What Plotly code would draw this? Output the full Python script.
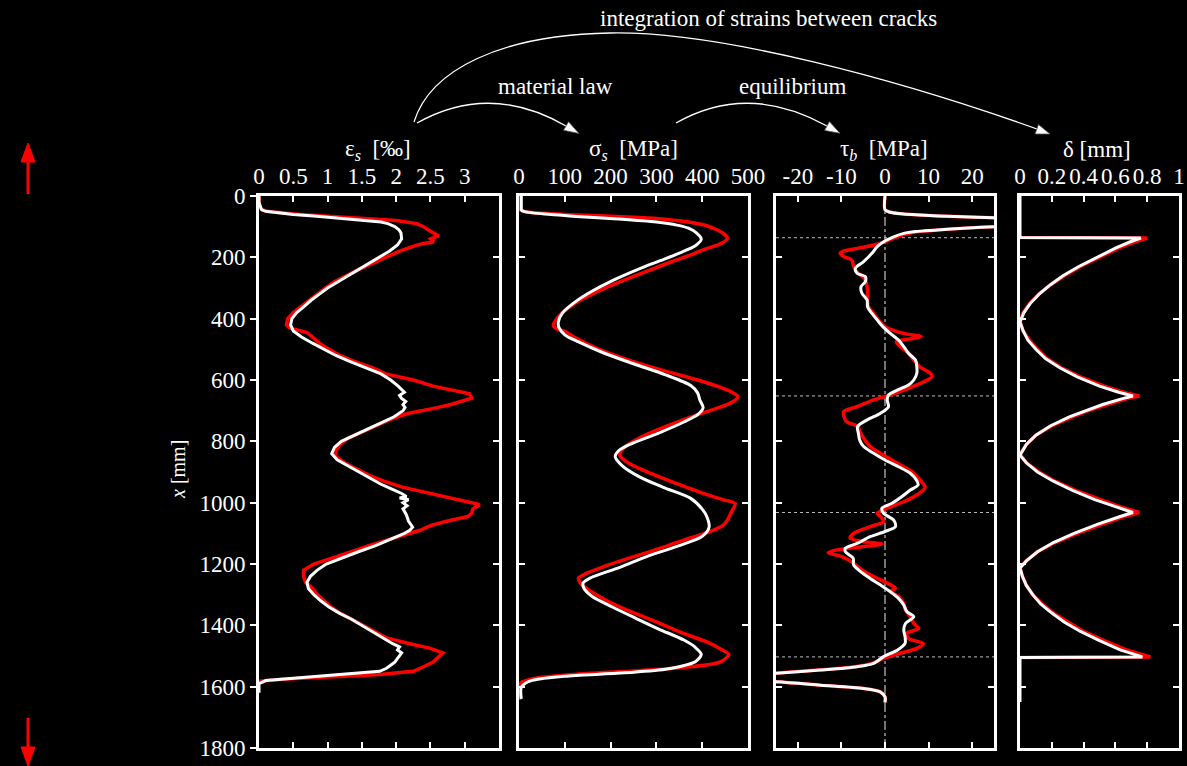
import plotly.graph_objects as go

W, H = 1187, 766

# ---------------- data ----------------
# position along the bar x [mm]
y_ticks = [0, 200, 400, 600, 800, 1000, 1200, 1400, 1600, 1800]
crack_positions = [136, 652, 1032, 1503]

eps_ticks = [0, 0.5, 1, 1.5, 2, 2.5, 3]
eps_ticklabels = ["0", "0.5", "1", "1.5", "2", "2.5", "3"]
sig_ticks = [0, 100, 200, 300, 400, 500]
sig_ticklabels = ["0", "100", "200", "300", "400", "500"]
tau_ticks = [-20, -10, 0, 10, 20]
tau_ticklabels = ["-20", "-10", "0", "10", "20"]
del_ticks = [0, 0.2, 0.4, 0.6, 0.8, 1]
del_ticklabels = ["0", "0.2", "0.4", "0.6", "0.8", "1"]

# steel strain eps_s [permille]
eps_white_pos = [0, 20, 35, 45, 50, 55, 60, 65, 70, 75, 80, 85, 90, 100, 110, 120, 140, 160, 180, 200,
                 220, 240, 260, 280, 300, 320, 340, 360, 380, 400, 420, 440, 460, 480, 500, 520, 540,
                 560, 580, 600, 620, 640, 650, 660, 670, 680, 690, 700, 720, 740, 760, 780, 800, 820,
                 840, 860, 880, 900, 920, 940, 960, 970, 980, 985, 990, 1000, 1010, 1020, 1040, 1060,
                 1080, 1090, 1100, 1120, 1140, 1160, 1180, 1200, 1220, 1240, 1260, 1280, 1300, 1320,
                 1340, 1360, 1380, 1400, 1420, 1440, 1460, 1470, 1480, 1490, 1500, 1510, 1520, 1530,
                 1540, 1550, 1560, 1570, 1580, 1590, 1620]
eps_white = [0.0, 0.0, 0.02, 0.04, 0.1, 0.3, 0.5, 0.8, 1.05, 1.35, 1.6, 1.78, 1.88, 1.98, 2.04, 2.07,
             2.08, 2.02, 1.9, 1.75, 1.58, 1.43, 1.28, 1.13, 1.0, 0.88, 0.76, 0.66, 0.55, 0.48, 0.46,
             0.5, 0.62, 0.78, 0.95, 1.12, 1.33, 1.55, 1.78, 1.92, 2.03, 2.12, 2.05, 2.08, 2.14, 2.1,
             2.13, 2.1, 1.97, 1.78, 1.58, 1.38, 1.2, 1.1, 1.06, 1.14, 1.3, 1.45, 1.6, 1.78, 1.98,
             2.08, 2.15, 2.05, 2.18, 2.1, 2.16, 2.1, 2.15, 2.18, 2.24, 2.2, 2.12, 1.9, 1.7, 1.45,
             1.2, 0.98, 0.85, 0.75, 0.7, 0.72, 0.8, 0.9, 1.02, 1.17, 1.35, 1.5, 1.65, 1.8, 1.95,
             2.05, 2.02, 2.08, 2.05, 2.02, 1.98, 1.92, 1.86, 1.76, 1.2, 0.6, 0.1, 0.0, 0.0]

eps_red_pos = [0, 20, 40, 50, 60, 70, 80, 90, 100, 115, 130, 140, 150, 155, 160, 180, 200, 220, 240,
               260, 280, 300, 320, 340, 360, 380, 400, 420, 430, 440, 445, 460, 480, 500, 520, 540,
               560, 580, 600, 620, 640, 645, 659, 670, 680, 690, 700, 710, 730, 750, 770, 790, 810,
               830, 850, 870, 890, 910, 930, 940, 950, 960, 970, 980, 990, 1000, 1007, 1020, 1035,
               1045, 1060, 1075, 1090, 1100, 1120, 1140, 1160, 1180, 1200, 1220, 1240, 1260, 1280,
               1300, 1320, 1340, 1360, 1380, 1400, 1420, 1440, 1460, 1475, 1490, 1505, 1520, 1535,
               1550, 1560, 1568, 1575, 1582, 1600, 1620, 1650]
eps_red = [0.0, 0.0, 0.02, 0.1, 0.6, 1.3, 2.0, 2.3, 2.4, 2.5, 2.62, 2.5, 2.55, 2.4, 2.3, 2.05, 1.85,
           1.62, 1.45, 1.27, 1.1, 0.97, 0.85, 0.72, 0.6, 0.5, 0.42, 0.4, 0.45, 0.62, 0.7, 0.78, 0.88,
           1.02, 1.18, 1.4, 1.65, 1.85, 2.25, 2.54, 2.95, 3.07, 3.1, 2.95, 2.8, 2.6, 2.35, 2.15,
           1.9, 1.7, 1.5, 1.3, 1.18, 1.12, 1.12, 1.25, 1.42, 1.6, 1.82, 1.95, 2.1, 2.3, 2.5, 2.75,
           2.95, 3.1, 3.22, 3.12, 3.1, 3.05, 2.75, 2.5, 2.35, 2.2, 1.9, 1.6, 1.35, 1.08, 0.8, 0.65,
           0.65, 0.68, 0.78, 0.85, 0.95, 1.05, 1.18, 1.35, 1.52, 1.68, 1.85, 2.2, 2.5, 2.68, 2.6,
           2.54, 2.4, 2.25, 1.76, 1.0, 0.4, 0.0, -0.03, -0.03, -0.03]

# steel stress sigma_s [MPa]
sig_white_pos = [0, 40, 45, 50, 55, 60, 67, 75, 85, 95, 105, 121, 141, 162, 186, 210, 239, 275, 310,
                 346, 381, 410, 428, 453, 476, 512, 547, 583, 618, 642, 666, 690, 713, 737, 773, 808,
                 830, 850, 879, 915, 950, 986, 1021, 1045, 1080, 1110, 1140, 1175, 1211, 1246, 1262,
                 1280, 1306, 1341, 1377, 1412, 1448, 1472, 1495, 1519, 1535, 1543, 1555, 1566, 1575,
                 1584, 1602, 1640]
sig_white = [5, 5, 5, 10, 30, 70, 125, 215, 300, 345, 370, 388, 398, 385, 350, 310, 260, 205, 160,
             122, 95, 86, 87, 100, 130, 185, 250, 320, 375, 390, 395, 402, 390, 360, 305, 245, 218,
             210, 225, 262, 315, 375, 400, 410, 415, 400, 350, 280, 220, 155, 140, 142, 160, 205,
             255, 305, 360, 385, 398, 385, 350, 320, 230, 100, 45, 20, 5, 5]

sig_red_pos = [0, 45, 52, 60, 66, 73, 85, 97, 110, 121, 138, 156, 174, 192, 216, 245, 280, 316, 352,
               387, 410, 423, 435, 441, 464, 500, 535, 571, 600, 624, 640, 654, 668, 683, 713, 749,
               784, 820, 844, 867, 903, 938, 974, 990, 1003, 1027, 1057, 1075, 1098, 1122, 1140,
               1158, 1193, 1229, 1246, 1264, 1282, 1318, 1353, 1389, 1424, 1454, 1477, 1495, 1519,
               1536, 1548, 1560, 1570, 1578, 1590, 1643]
sig_red = [2, 2, 20, 100, 200, 300, 370, 410, 432, 445, 455, 440, 405, 375, 330, 280, 220, 165, 120,
           90, 78, 75, 85, 100, 125, 175, 240, 320, 390, 440, 465, 478, 470, 450, 390, 325, 270, 230,
           220, 235, 285, 345, 410, 445, 472, 465, 455, 445, 410, 360, 325, 290, 215, 150, 130, 135,
           150, 190, 240, 300, 355, 410, 440, 458, 440, 370, 260, 120, 45, 20, 2, 2]

# bond stress tau_b [MPa]
tau_white_pos = [0, 45, 52, 57, 62, 67, 71, 78, 86, 93, 100, 105, 111, 116, 122, 133, 149, 165, 187,
                 214, 236, 252, 263, 279, 296, 317, 339, 361, 383, 404, 426, 448, 470, 491, 513, 535,
                 557, 578, 600, 616, 633, 649, 665, 687, 709, 730, 752, 774, 796, 817, 839, 861, 883,
                 904, 926, 942, 959, 980, 1002, 1018, 1035, 1057, 1078, 1094, 1111, 1133, 1149, 1160,
                 1181, 1203, 1225, 1247, 1268, 1290, 1312, 1334, 1355, 1372, 1394, 1415, 1437, 1459,
                 1481, 1502, 1524, 1535, 1546, 1556, 1565, 1575, 1584, 1595, 1606, 1617, 1633, 1652]
tau_white = [0, 0, 1, 3, 8, 16, 25, 40, 45, 40, 25, 18, 12, 7, 4.3, 2, -0.3, -1.8, -3, -4.9, -6.8,
             -6.4, -4.5, -4.5, -5.5, -5.3, -4.1, -4.0, -3.0, -1.8, -0.5, 1.2, 3.1, 4.3, 5.4, 7.0, 7.3,
             7.3, 6.6, 5.4, 2.8, 0.8, 0.5, 0.8, -1.1, -4.1, -6.3, -6.1, -5.8, -4.9, -2.6, 0, 3.1, 5.8,
             7.2, 7.6, 5.8, 3.9, 1.6, -0.7, -0.3, 2.0, 2.4, 0, -3.4, -6.4, -9.1, -9.1, -7.3, -7.2,
             -5.6, -3.4, -1.1, 1.2, 3.1, 4.3, 5.0, 6.6, 4.7, 4.3, 4.6, 4.6, 2.8, -0.3, -2.6, -6.4,
             -14.8, -25, -40, -40, -25, -14.8, -4.9, -1.1, 0, 0]

tau_red_pos = [0, 45, 52, 57, 62, 67, 71, 78, 86, 93, 100, 105, 111, 116, 122, 133, 149, 160, 170,
               180, 187, 197, 209, 230, 252, 274, 296, 317, 339, 361, 383, 404, 426, 442, 452, 458,
               466, 475, 491, 513, 535, 557, 578, 589, 600, 616, 633, 649, 665, 687, 703, 720, 736,
               752, 768, 790, 817, 839, 861, 883, 904, 926, 950, 975, 997, 1018, 1035, 1046, 1062,
               1078, 1100, 1116, 1127, 1135, 1143, 1154, 1163, 1176, 1197, 1219, 1241, 1262, 1279,
               1290, 1306, 1328, 1350, 1372, 1394, 1410, 1426, 1443, 1459, 1475, 1491, 1508, 1524,
               1535, 1546, 1556, 1565, 1575, 1584, 1595, 1606, 1617, 1633, 1650]
tau_red = [0, 0, 1, 3, 8, 16, 25, 40, 45, 40, 25, 18, 12, 8, 5.5, 2.8, 0, -2.5, -6, -9.5, -10.3,
           -9.5, -7.6, -7.2, -6.1, -4.5, -4.1, -4.0, -4.0, -3.8, -2.6, -1.5, 0, 2.8, 5.8, 8.3, 5.8,
           2.6, 3.5, 5.4, 6.6, 8.0, 10.4, 10.8, 9.7, 7.3, 4.3, 1.2, -2.6, -6.4, -9.5, -9.4, -8.8,
           -6.1, -5.8, -4.9, -3.4, -1.1, 1.6, 4.3, 6.6, 8.0, 9.2, 7.3, 4.3, 0.5, -1.8, -1.0, -0.3,
           -3.4, -7.2, -8.0, -4.9, -0.7, -4.9, -11, -13, -9.9, -7.2, -5.3, -2.6, 0.5, 2.4, 1.2, 3.1,
           4.3, 4.7, 5.8, 6.6, 7.7, 5.0, 5.4, 8.8, 7.3, 3.5, -0.3, -3.0, -7, -15.5, -25, -40, -40,
           -25, -14.8, -4.9, -1.1, 0, 0]

# slip delta [mm]
del_white_pos = [0, 135, 137, 150, 170, 200, 230, 260, 290, 320, 350, 380, 411, 440, 470, 500, 530,
                 560, 590, 620, 640, 652, 660, 680, 700, 720, 750, 780, 810, 845, 870, 900, 930, 960,
                 990, 1010, 1032, 1045, 1070, 1100, 1130, 1160, 1190, 1213, 1240, 1270, 1300, 1330,
                 1360, 1390, 1420, 1450, 1480, 1503, 1505, 1650]
del_white = [0, 0, 0.76, 0.69, 0.60, 0.48, 0.37, 0.27, 0.19, 0.12, 0.065, 0.025, 0, 0.02, 0.05, 0.10,
             0.16, 0.25, 0.36, 0.50, 0.62, 0.71, 0.65, 0.52, 0.41, 0.31, 0.19, 0.10, 0.04, 0, 0.04,
             0.11, 0.21, 0.33, 0.47, 0.58, 0.71, 0.63, 0.49, 0.34, 0.21, 0.11, 0.04, 0, 0.015, 0.04,
             0.08, 0.13, 0.20, 0.28, 0.38, 0.50, 0.63, 0.77, 0, 0]

del_red_pos = [0, 135, 137, 150, 170, 200, 230, 260, 290, 320, 350, 380, 408, 440, 470, 500, 530,
               560, 590, 620, 640, 652, 660, 680, 700, 720, 750, 780, 810, 842, 870, 900, 930, 960,
               990, 1010, 1032, 1045, 1070, 1100, 1130, 1160, 1190, 1210, 1240, 1270, 1300, 1330,
               1360, 1390, 1420, 1450, 1480, 1503, 1505, 1650]
del_red = [-0.005, -0.005, 0.80, 0.72, 0.62, 0.50, 0.38, 0.28, 0.19, 0.12, 0.06, 0.02, 0, 0.02, 0.06,
           0.11, 0.17, 0.26, 0.38, 0.53, 0.65, 0.75, 0.68, 0.55, 0.43, 0.33, 0.20, 0.10, 0.04, 0,
           0.04, 0.12, 0.22, 0.35, 0.50, 0.61, 0.75, 0.66, 0.52, 0.36, 0.22, 0.11, 0.04, 0, 0.015,
           0.04, 0.08, 0.14, 0.21, 0.30, 0.40, 0.53, 0.67, 0.82, -0.005, -0.005]

# ---------------- layout geometry (pixels) ----------------
def px(x):
    return x / W


def py(y):
    return 1 - y / H


panels_px = [(259, 499), (519, 748), (776, 994), (1020, 1179)]
ytop, ybot = 196, 748
ydom = [py(ybot), py(ytop)]

FONT = "Liberation Serif, Times New Roman, serif"
WHITE = "#ffffff"
RED = "#ff0000"

fig = go.Figure()


def line(vals, pos, color, width, k, smooth=False):
    xa = "x" if k == 1 else "x%d" % k
    ya = "y" if k == 1 else "y%d" % k
    ln = dict(color=color, width=width)
    if smooth:
        ln.update(shape="spline", smoothing=0.8)
    fig.add_trace(go.Scatter(x=vals, y=pos, mode="lines", xaxis=xa, yaxis=ya,
                             line=ln, showlegend=False, hoverinfo="skip"))


line(eps_red, eps_red_pos, RED, 3.5, 1)
line(eps_white, eps_white_pos, WHITE, 3, 1)
line(sig_red, sig_red_pos, RED, 3.5, 2, smooth=True)
line(sig_white, sig_white_pos, WHITE, 3, 2, smooth=True)
line(tau_red, tau_red_pos, RED, 3.5, 3, smooth=True)
line(tau_white, tau_white_pos, WHITE, 3, 3, smooth=True)
line(del_red, del_red_pos, RED, 3.5, 4)
line(del_white, del_white_pos, WHITE, 3, 4)
# helper trace for the inner right-hand ticks of the first panel
fig.add_trace(go.Scatter(x=[None], y=[None], xaxis="x", yaxis="y5", showlegend=False,
                         hoverinfo="skip"))

tickfont = dict(family=FONT, size=23, color=WHITE)
xranges = [[0, 3.5], [0, 500], [-25, 25], [0, 1]]
xticks = [(eps_ticks, eps_ticklabels), (sig_ticks, sig_ticklabels),
          (tau_ticks, tau_ticklabels), (del_ticks, del_ticklabels)]

for i in range(4):
    k = i + 1
    xname = "xaxis" if k == 1 else "xaxis%d" % k
    yname = "yaxis" if k == 1 else "yaxis%d" % k
    fig.layout[xname] = dict(
        domain=[px(panels_px[i][0]), px(panels_px[i][1])], range=xranges[i],
        anchor="y" if k == 1 else "y%d" % k, side="top",
        tickmode="array", tickvals=xticks[i][0], ticktext=xticks[i][1],
        showline=True, linecolor=WHITE, linewidth=3, mirror="ticks",
        ticks="inside", ticklen=6, tickwidth=2, tickcolor=WHITE,
        showgrid=False, zeroline=False, tickfont=tickfont, tickangle=0,
        automargin=False, fixedrange=True)
    fig.layout[yname] = dict(
        domain=ydom, range=[1800, 0], anchor="x" if k == 1 else "x%d" % k,
        tickmode="array", tickvals=y_ticks, ticktext=[str(v) for v in y_ticks],
        showline=True, linecolor=WHITE, linewidth=3,
        mirror=True if k == 1 else "ticks",
        ticks="outside" if k == 1 else "inside", ticklen=6, tickwidth=2, tickcolor=WHITE,
        showticklabels=(k == 1), showgrid=False, zeroline=False, tickfont=tickfont,
        automargin=False, fixedrange=True)

fig.layout["yaxis5"] = dict(
    overlaying="y", side="right", anchor="x", range=[1800, 0],
    tickmode="array", tickvals=y_ticks, ticks="inside", ticklen=6, tickwidth=2,
    tickcolor=WHITE, showticklabels=False, showline=False, showgrid=False,
    zeroline=False, automargin=False, fixedrange=True)

shapes = []
# zero line and crack positions in the bond-stress panel
shapes.append(dict(type="line", xref="x3", yref="y3 domain", x0=0, x1=0, y0=0, y1=1,
                   line=dict(color="#9a9a9a", width=1.5, dash="dashdot"), layer="below"))
for c in crack_positions:
    shapes.append(dict(type="line", xref="x3 domain", yref="y3", x0=0, x1=1, y0=c, y1=c,
                       line=dict(color="#bdbdbd", width=1, dash="dot"), layer="below"))


def P(x, y):
    return "%.5f,%.5f" % (px(x), py(y))


def curve_arrow(path_pts, tip, b1, b2):
    shapes.append(dict(type="path", xref="paper", yref="paper", path=path_pts,
                       line=dict(color=WHITE, width=1.3)))
    shapes.append(dict(type="path", xref="paper", yref="paper",
                       path="M %s L %s L %s Z" % (P(*tip), P(*b1), P(*b2)),
                       fillcolor=WHITE, line=dict(color="#555555", width=0.8)))


# big arc: integration of strains between cracks
curve_arrow("M %s C %s %s %s C %s %s %s" % (P(414, 122), P(430, 70), P(500, 35), P(610, 33),
                                            P(720, 31), P(900, 80), P(1037, 129)),
            (1050, 134), (1035.1, 134.0), (1038.5, 124.6))
# material law
curve_arrow("M %s Q %s %s" % (P(417, 123), P(490, 82), P(566, 126)),
            (579, 133.5), (563.5, 130.3), (568.5, 121.7))
# equilibrium
curve_arrow("M %s Q %s %s" % (P(676, 123), P(748, 82), P(827, 126)),
            (840, 133.3), (824.6, 130.4), (829.4, 121.6))

# red arrows at far left
shapes.append(dict(type="line", xref="paper", yref="paper", x0=px(28), x1=px(28),
                   y0=py(194), y1=py(160), line=dict(color=RED, width=3)))
shapes.append(dict(type="path", xref="paper", yref="paper",
                   path="M %s L %s L %s Z" % (P(28, 143), P(21, 162), P(35, 162)),
                   fillcolor=RED, line=dict(color=RED, width=1)))
shapes.append(dict(type="line", xref="paper", yref="paper", x0=px(28), x1=px(28),
                   y0=py(718), y1=py(750), line=dict(color=RED, width=3)))
shapes.append(dict(type="path", xref="paper", yref="paper",
                   path="M %s L %s L %s Z" % (P(28, 766), P(21, 747), P(35, 747)),
                   fillcolor=RED, line=dict(color=RED, width=1)))

ann_font = dict(family=FONT, size=23, color=WHITE)
annotations = []


def text(x, y, s, angle=0, size=23):
    annotations.append(dict(x=px(x), y=py(y), xref="paper", yref="paper", text=s,
                            showarrow=False, font=dict(ann_font, size=size),
                            xanchor="center", yanchor="middle", textangle=angle))


text(768, 18, "integration of strains between cracks")
text(555, 87, "material law")
text(792, 87, "equilibrium")
text(378, 150, "ε<sub><i>s</i></sub>  [‰]")
text(633, 150, "σ<sub><i>s</i></sub>  [MPa]")
text(884, 150, "τ<sub><i>b</i></sub>  [MPa]")
text(1097, 150, "δ [mm]")
text(178, 470, "<i>x</i> [mm]", angle=-90, size=20)

fig.update_layout(width=W, height=H, margin=dict(l=0, r=0, t=0, b=0),
                  paper_bgcolor="black", plot_bgcolor="black",
                  shapes=shapes, annotations=annotations, showlegend=False)

fig.write_html("out.html")
